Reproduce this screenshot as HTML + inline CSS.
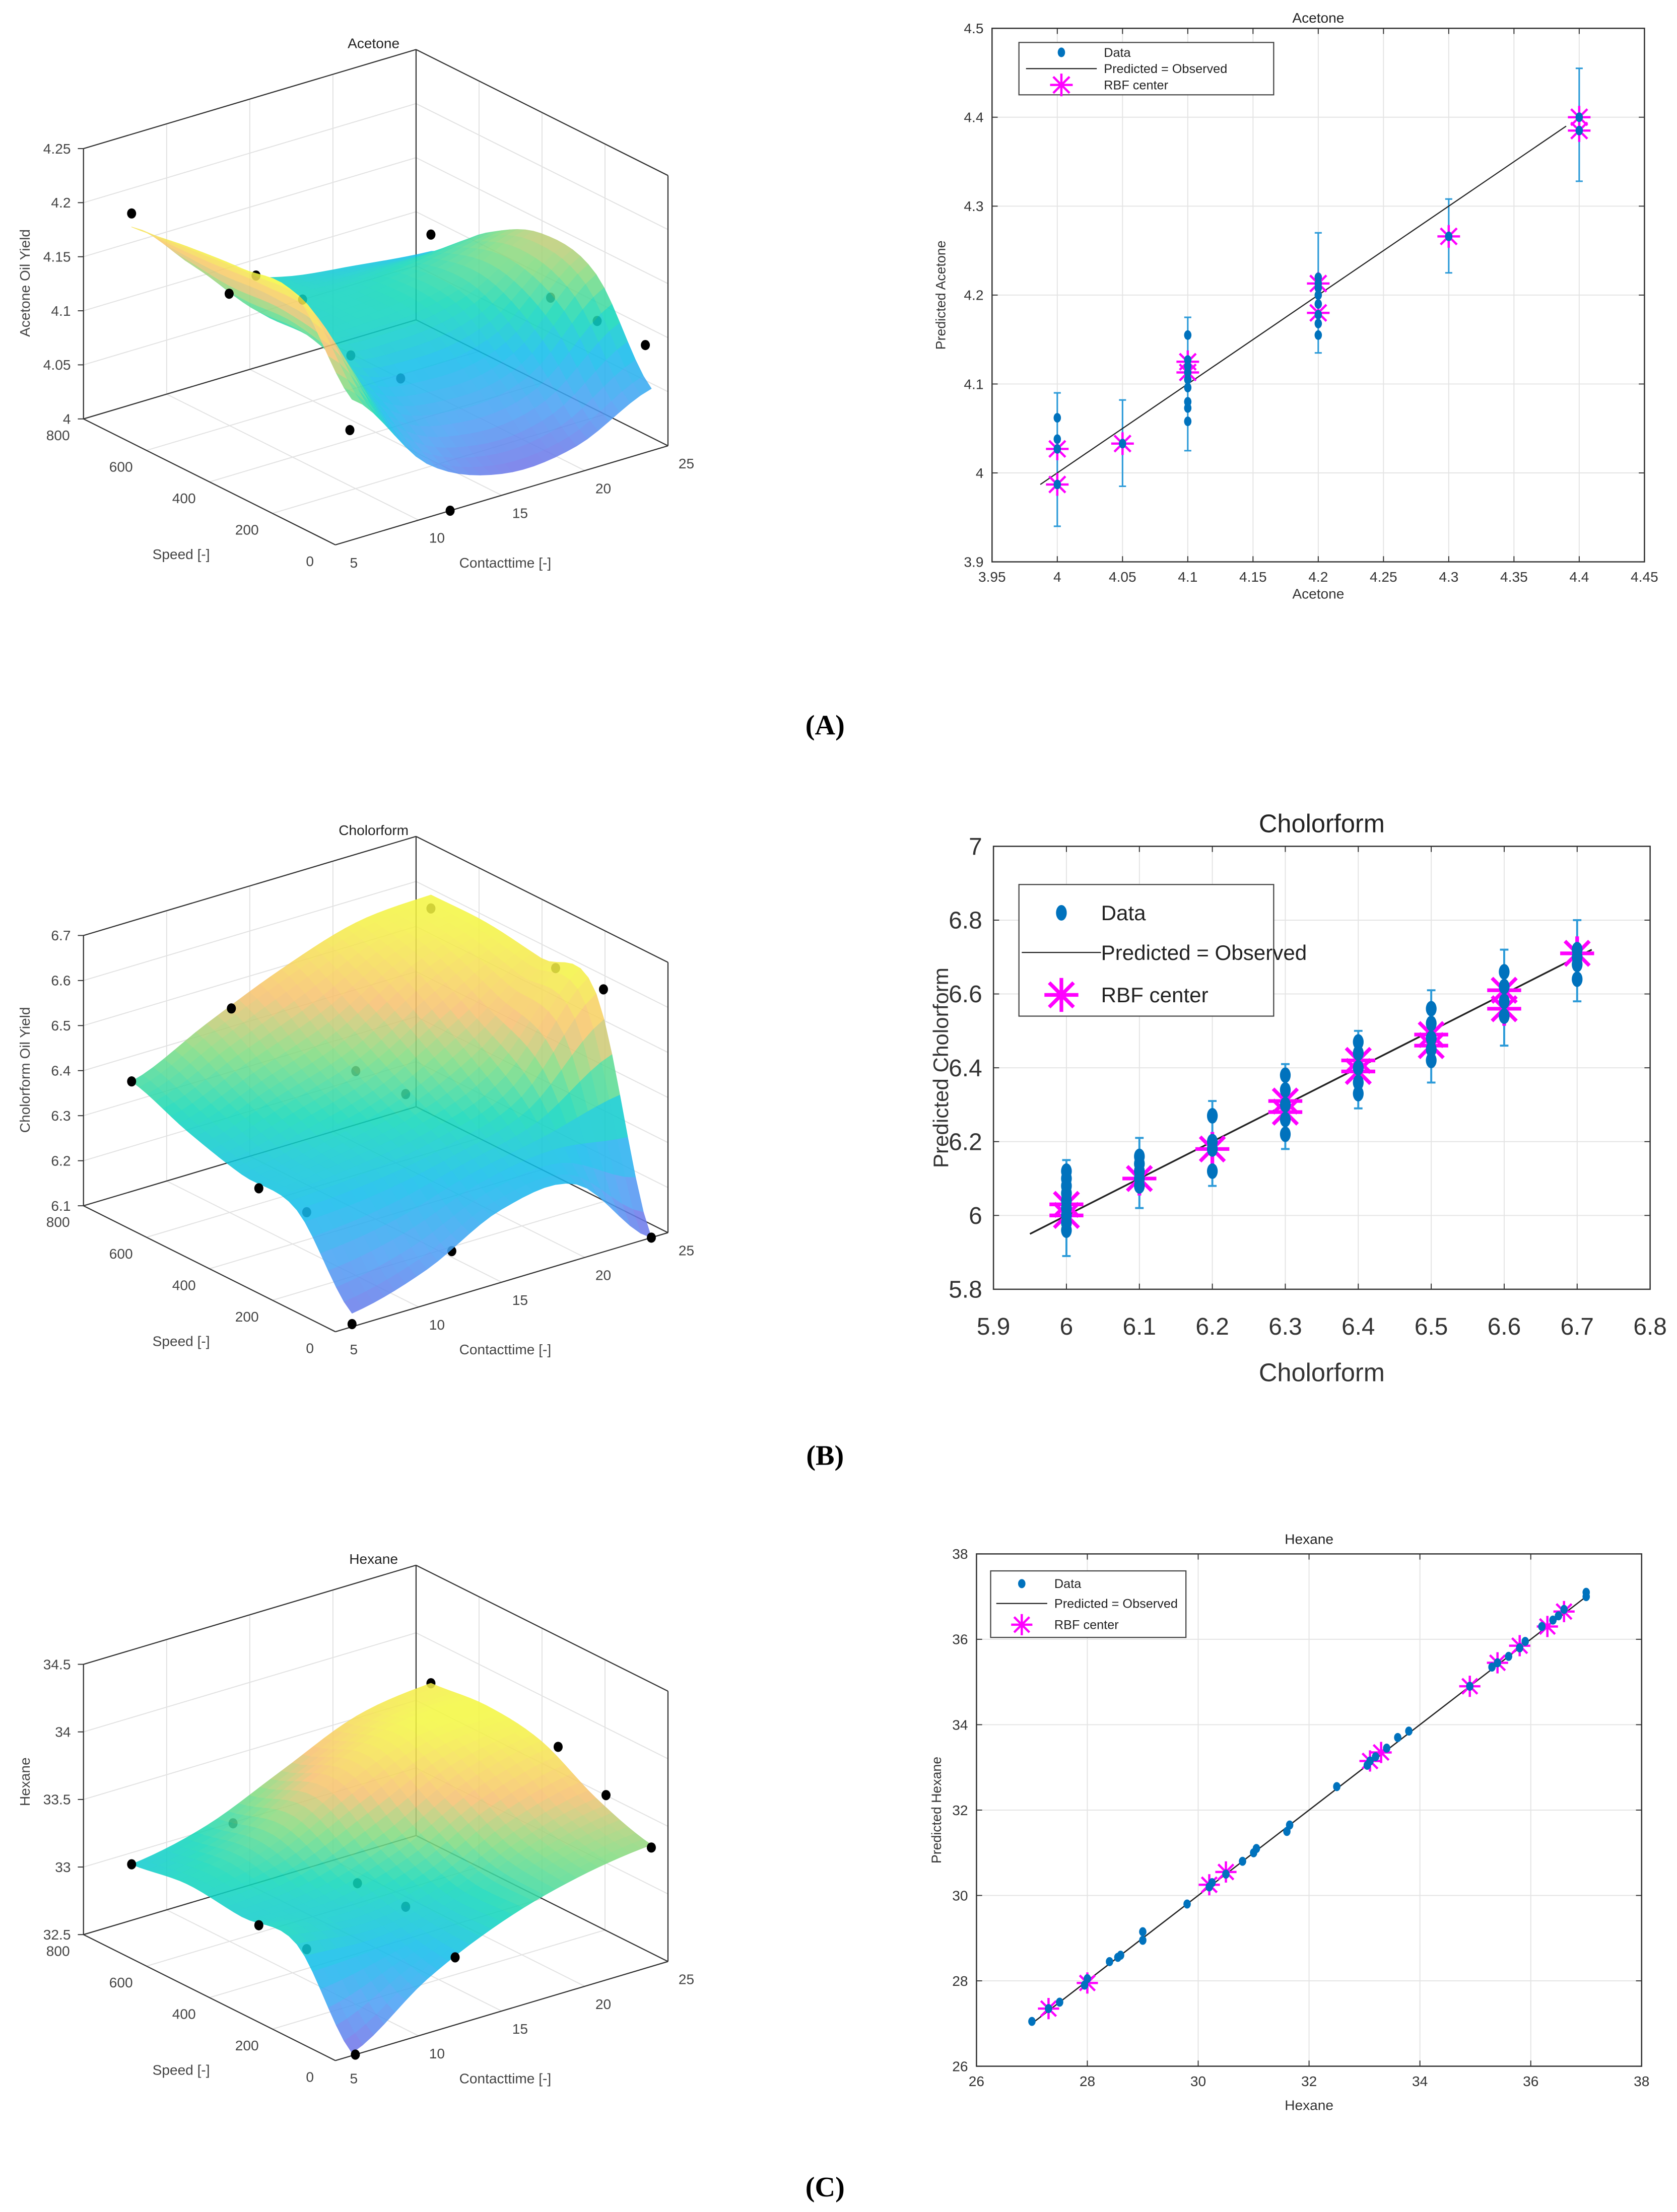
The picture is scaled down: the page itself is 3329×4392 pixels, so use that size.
<!DOCTYPE html>
<html><head><meta charset="utf-8">
<style>
html,body{margin:0;padding:0;background:#fff;}
svg{display:block;}
text{font-family:"Liberation Sans",sans-serif;}
</style></head>
<body>
<svg id="fig" xmlns="http://www.w3.org/2000/svg" width="3329" height="4392" viewBox="0 0 1185 1563" preserveAspectRatio="none">
<rect x="0" y="0" width="1185" height="1563" fill="#fff"/>
<text x="583" y="519" text-anchor="middle" font-size="20" font-weight="bold" style="font-family:'Liberation Serif',serif">(A)</text>
<text x="583" y="1035" text-anchor="middle" font-size="20" font-weight="bold" style="font-family:'Liberation Serif',serif">(B)</text>
<text x="583" y="1552" text-anchor="middle" font-size="20" font-weight="bold" style="font-family:'Liberation Serif',serif">(C)</text>
</svg>
<script>
// ---------- 3D surface data ----------
const surfCt = [6, 10.5, 15, 19.5, 24];
const surfSpeed = [0, 175, 350, 525, 700];
const acetoneGrid = [
 [4.13, 4.05, 4.02, 4.025, 4.0575],
 [4.2, 4.0875, 4.0625, 4.075, 4.1375],
 [4.2, 4.1125, 4.1, 4.1125, 4.15],
 [4.195, 4.1125, 4.105, 4.1125, 4.125],
 [4.1875, 4.125, 4.1, 4.09, 4.0825]];
const chloroGrid = [
 [6.13, 6.178, 6.262, 6.268, 6.1],
 [6.298, 6.31, 6.34, 6.4, 6.58],
 [6.316, 6.352, 6.4, 6.49, 6.598],
 [6.352, 6.412, 6.472, 6.568, 6.616],
 [6.4, 6.478, 6.55, 6.604, 6.616]];
const hexaneGrid = [
 [32.52, 32.9, 33.16, 33.32, 33.4],
 [33.12, 33.06, 33.16, 33.4, 33.54],
 [33.12, 33.16, 33.34, 33.62, 33.76],
 [33.16, 33.3, 33.6, 33.8, 33.82],
 [33.1, 33.22, 33.46, 33.7, 33.78]];
// observation points
const acetonePtCt = [6, 7.7, 7.8, 10.6, 13.5, 16.5, 8.9, 11.9, 24, 24, 24, 24];
const acetonePtSpeed = [700, 480, 400, 400, 400, 400, 160, 0, 700, 320, 172, 19];
const acetonePtYield = [4.2, 4.15, 4.178, 4.143, 4.078, 4.043, 4.065, 4.0, 4.098, 4.095, 4.095, 4.095];
const acetonePtHidden = [0,0,1,1,1,1,0,0,1,1,1,0];
const chloroPtCt = [6, 12, 6, 6, 6, 12, 24, 13.8, 16.8, 24, 24, 24];
const chloroPtSpeed = [700, 700, 296, 144, 0, 0, 0, 400, 400, 700, 304, 152];
const chloroPtYield = [6.4, 6.496, 6.304, 6.304, 6.106, 6.202, 6.1, 6.442, 6.358, 6.586, 6.592, 6.598];
const chloroPtHidden = [0,0,0,1,0,1,0,1,1,1,1,0];
const hexanePtCt = [6, 12.1, 6, 6, 6.2, 12.2, 13.9, 16.8, 24, 24, 24, 24];
const hexanePtSpeed = [700, 700, 296, 144, 0, 0, 400, 400, 700, 296, 144, 0];
const hexanePtYield = [33.1, 33.18, 33.12, 33.12, 32.5, 33.0, 33.02, 32.74, 33.78, 33.78, 33.6, 33.38];
const hexanePtHidden = [0,1,0,1,0,0,1,1,1,1,1,0];
const ctTicks = [5, 10, 15, 20, 25];
const speedTicks = [0, 200, 400, 600, 800];
const acetoneZTicks = [4, 4.05, 4.1, 4.15, 4.2, 4.25];
const chloroZTicks = [6.1, 6.2, 6.3, 6.4, 6.5, 6.6, 6.7];
const hexaneZTicks = [32.5, 33, 33.5, 34, 34.5];

// ---------- 2D parity data ----------
const acetoneObs = [4.0, 4.05, 4.1, 4.2, 4.3, 4.4];
const acetonePred = [[3.987,4.027,4.038,4.062],[4.033],[4.058,4.073,4.08,4.096,4.105,4.113,4.12,4.127,4.155],[4.155,4.168,4.178,4.19,4.2,4.208,4.213,4.22],[4.266],[4.385,4.4]];
const acetoneRbf = [[4.027,3.987],[4.033],[4.125,4.113],[4.213,4.18],[4.266],[4.4,4.385]];
const acetoneErrLo = [3.94, 3.985, 4.025, 4.135, 4.225, 4.328];
const acetoneErrHi = [4.09, 4.082, 4.175, 4.27, 4.308, 4.455];
const acetoneLine = [3.987, 4.39];
const acetoneXTicks = [3.95,4,4.05,4.1,4.15,4.2,4.25,4.3,4.35,4.4,4.45];
const acetoneXLabels = ['3.95','4','4.05','4.1','4.15','4.2','4.25','4.3','4.35','4.4','4.45'];
const acetoneYTicks = [3.9,4,4.1,4.2,4.3,4.4,4.5];
const acetoneYLabels = ['3.9','4','4.1','4.2','4.3','4.4','4.5'];

const chloroObs = [6.0,6.1,6.2,6.3,6.4,6.5,6.6,6.7];
const chloroPred = [[5.96,5.98,6.0,6.02,6.04,6.06,6.08,6.1,6.12],[6.08,6.1,6.12,6.14,6.16],[6.12,6.18,6.2,6.27],[6.22,6.26,6.3,6.34,6.38],[6.33,6.36,6.4,6.44,6.47],[6.42,6.45,6.48,6.52,6.56],[6.54,6.58,6.62,6.66],[6.64,6.68,6.7,6.72]];
const chloroRbf = [[6.0,6.03],[6.1],[6.18],[6.28,6.31],[6.39,6.42],[6.46,6.49],[6.56,6.61],[6.71]];
const chloroErrLo = [5.89,6.02,6.08,6.18,6.29,6.36,6.46,6.58];
const chloroErrHi = [6.15,6.21,6.31,6.41,6.5,6.61,6.72,6.8];
const chloroLine = [5.95, 6.72];
const chloroXTicks = [5.9,6,6.1,6.2,6.3,6.4,6.5,6.6,6.7,6.8];
const chloroXLabels = ['5.9','6','6.1','6.2','6.3','6.4','6.5','6.6','6.7','6.8'];
const chloroYTicks = [5.8,6,6.2,6.4,6.6,6.8,7];
const chloroYLabels = ['5.8','6','6.2','6.4','6.6','6.8','7'];

const hexaneObs = [27.0,27.3,27.5,27.95,28.0,28.4,28.55,28.6,29.0,29.0,29.8,30.2,30.25,30.5,30.8,31.0,31.05,31.6,31.65,32.5,33.05,33.1,33.2,33.4,33.6,33.8,34.9,35.3,35.4,35.6,35.8,35.9,36.2,36.4,36.5,36.6,37.0,37.0];
const hexanePred = [27.05,27.35,27.5,27.9,28.05,28.45,28.55,28.6,28.95,29.15,29.8,30.2,30.3,30.5,30.8,31.0,31.1,31.5,31.65,32.55,33.05,33.15,33.25,33.45,33.7,33.85,34.9,35.35,35.45,35.6,35.8,35.95,36.3,36.45,36.55,36.7,37.0,37.1];
const hexaneRbfObs = [27.3,28.0,30.2,30.5,33.1,33.3,34.9,35.4,35.8,36.3,36.6];
const hexaneRbfPred = [27.35,27.95,30.25,30.55,33.15,33.35,34.9,35.45,35.85,36.3,36.65];
const hexaneLine = [27.0, 37.0];
const hexaneXTicks = [26,28,30,32,34,36,38];
const hexaneXLabels = ['26','28','30','32','34','36','38'];
const hexaneYTicks = [26,28,30,32,34,36,38];
const hexaneYLabels = ['26','28','30','32','34','36','38'];

// ---------- helpers ----------
const NS = 'http://www.w3.org/2000/svg';
const svg = document.getElementById('fig');
function mk(tag, attrs, parent) {
  const e = document.createElementNS(NS, tag);
  for (const k in attrs) e.setAttribute(k, attrs[k]);
  (parent || svg).appendChild(e);
  return e;
}
function txt(str, attrs, parent) { const e = mk('text', attrs, parent); e.textContent = str; return e; }

const cmapStops = [[0,[122,106,230]],[0.2,[74,159,245]],[0.38,[16,188,236]],[0.52,[16,216,184]],[0.66,[128,220,128]],[0.8,[248,192,112]],[1,[244,248,64]]];
function cmap(t) {
  t = Math.max(0, Math.min(1, t));
  for (let i = 1; i < cmapStops.length; i++) {
    if (t <= cmapStops[i][0]) {
      const a = cmapStops[i-1], b = cmapStops[i];
      const u = (t - a[0]) / (b[0] - a[0]);
      const c = a[1].map((v, k) => Math.round(v + (b[1][k] - v) * u));
      return 'rgb(' + c.join(',') + ')';
    }
  }
  return 'rgb(244,248,64)';
}
function cr(p0, p1, p2, p3, t) {
  const t2 = t*t, t3 = t2*t;
  return 0.5*((2*p1) + (-p0+p2)*t + (2*p0-5*p1+4*p2-p3)*t2 + (-p0+3*p1-3*p2+p3)*t3);
}
function gridAt(g, si, ci) {
  si = Math.max(0, Math.min(4, si)); ci = Math.max(0, Math.min(4, ci));
  return g[si][ci];
}
function sampleGrid(g, u, v) {
  const ci = Math.min(3, Math.floor(u)), si = Math.min(3, Math.floor(v));
  const tu = u - ci, tv = v - si;
  const rows = [];
  for (let k = -1; k <= 2; k++) {
    const r = si + k;
    rows.push(cr(gridAt(g,r,ci-1), gridAt(g,r,ci), gridAt(g,r,ci+1), gridAt(g,r,ci+2), tu));
  }
  return cr(rows[0], rows[1], rows[2], rows[3], tv);
}

// ---------- 3D plot ----------
function draw3D(cfg) {
  const g = mk('g', {});
  
  
  const P = (ct, sp, z) => {
    const c = (ct - 5) / 20, s = sp / 800, f = (z - cfg.zmin) / (cfg.zmax - cfg.zmin);
    return [237 + 235*c - 178*s, 385 + cfg.dy - 70*c - 89*s - 191*f];
  };
  const zmin = cfg.zmin, zmax = cfg.zmax;
  const gridStyle = {stroke:'#e2e2e2','stroke-width':0.7,fill:'none'};
  cfg.zticks.forEach(z => {
    const a = P(5,800,z), b = P(25,800,z), c = P(25,0,z);
    const el = mk('polyline', Object.assign({points: a.join(',')+' '+b.join(',')+' '+c.join(',')}, gridStyle), g);
    
    
  });
  ctTicks.forEach(t => {
    const a = P(t,0,zmin), b = P(t,800,zmin), c = P(t,800,zmax);
    const el = mk('polyline', Object.assign({points: a.join(',')+' '+b.join(',')+' '+c.join(',')}, gridStyle), g);
    
    
  });
  speedTicks.forEach(t => {
    const a = P(5,t,zmin), b = P(25,t,zmin), c = P(25,t,zmax);
    const el = mk('polyline', Object.assign({points: a.join(',')+' '+b.join(',')+' '+c.join(',')}, gridStyle), g);
    
    
  });
  const boxSegs = [
    [[5,800,zmin],[5,800,zmax]],[[25,800,zmin],[25,800,zmax]],[[25,0,zmin],[25,0,zmax]],
    [[5,800,zmax],[25,800,zmax]],[[25,800,zmax],[25,0,zmax]],
    [[5,800,zmin],[25,800,zmin]],[[25,800,zmin],[25,0,zmin]],
    [[5,800,zmin],[5,0,zmin]],[[5,0,zmin],[25,0,zmin]]];
  boxSegs.forEach(sg => {
    const a = P(...sg[0]), b = P(...sg[1]);
    const el = mk('line', {x1:a[0],y1:a[1],x2:b[0],y2:b[1],stroke:'#333','stroke-width':0.8}, g);
    
    
  });
  const drawPt = (i, hidden) => {
    const p = P(cfg.ptCt[i], cfg.ptSp[i], cfg.ptZ[i]);
    const el = mk('ellipse', {cx:p[0], cy:p[1], rx:3.2, ry:3.6, fill:'#000'}, g);
    
    
  };
  cfg.ptZ.forEach((z, i) => { if (cfg.ptHidden[i]) drawPt(i, true); });
  const sg = mk('g', {opacity:0.86}, g);
  
  
  const N = 28, quads = [];
  const cts = surfCt, sps = surfSpeed;
  const vert = (iu, iv) => {
    const u = iu / N * 4, v = iv / N * 4;
    const ct = cts[0] + (cts[4] - cts[0]) * iu / N;
    const sp = sps[0] + (sps[4] - sps[0]) * iv / N;
    const z = sampleGrid(cfg.grid, u, v);
    return {p: P(ct, sp, z), z: z, ct: ct, sp: sp};
  };
  const V = [];
  for (let iv = 0; iv <= N; iv++) { V.push([]); for (let iu = 0; iu <= N; iu++) V[iv].push(vert(iu, iv)); }
  for (let iv = 0; iv < N; iv++) for (let iu = 0; iu < N; iu++) {
    const a = V[iv][iu], b = V[iv][iu+1], c = V[iv+1][iu+1], d = V[iv+1][iu];
    const zAvg = (a.z + b.z + c.z + d.z) / 4;
    const depth = 70 * ((a.ct + c.ct) / 2 - 5) / 20 + 89 * ((a.sp + c.sp) / 2) / 800;
    quads.push({pts:[a.p,b.p,c.p,d.p], z:zAvg, depth:depth});
  }
  quads.sort((q1, q2) => q2.depth - q1.depth);
  quads.forEach(q => {
    const col = cmap((q.z - cfg.cmin) / (cfg.cmax - cfg.cmin));
    const el = mk('polygon', {points: q.pts.map(p => p[0].toFixed(2)+','+p[1].toFixed(2)).join(' '), fill: col, stroke: col, 'stroke-width': 0.35, 'stroke-linejoin':'round'}, sg);
    
    
  });
  cfg.ptZ.forEach((z, i) => { if (!cfg.ptHidden[i]) drawPt(i, false); });
  cfg.zticks.forEach((z, i) => {
    const p = P(5,800,z);
    const el = txt(cfg.zlabels[i], {x:p[0]-9, y:p[1]+3.5, 'text-anchor':'end', 'font-size':10, fill:'#444'}, g);
    
    
    const tk = mk('line', {x1:p[0]-4, y1:p[1], x2:p[0], y2:p[1], stroke:'#333','stroke-width':0.7}, g);
    
    
  });
  speedTicks.forEach(t => {
    const p = P(5,t,zmin);
    const el = txt(String(t), {x:p[0]-18, y:p[1]+15, 'text-anchor':'middle', 'font-size':10, fill:'#444'}, g);
    
    
  });
  ctTicks.forEach(t => {
    const p = P(t,0,zmin);
    const el = txt(String(t), {x:p[0]+13, y:p[1]+16, 'text-anchor':'middle', 'font-size':10, fill:'#444'}, g);
    
    
  });
  const t1 = txt('Speed [-]', {x:128, y:395 + cfg.dy, 'text-anchor':'middle', 'font-size':10, fill:'#444'}, g);
  
  
  const t2 = txt('Contacttime [-]', {x:357, y:401 + cfg.dy, 'text-anchor':'middle', 'font-size':10, fill:'#444'}, g);
  
  
  const t3 = txt(cfg.zTitle, {x:0, y:0, 'text-anchor':'middle', 'font-size':10, fill:'#444', transform:'translate(21,' + (cfg.zTitleY + cfg.dy) + ') rotate(-90)'}, g);
  
  
  const t4 = txt(cfg.title, {x:264, y:34 + cfg.dy, 'text-anchor':'middle', 'font-size':10, fill:'#222'}, g);
  
  
}

draw3D({name:'acetone-surface-plot', dy:0, zmin:4, zmax:4.25, zticks:acetoneZTicks, zlabels:['4','4.05','4.1','4.15','4.2','4.25'],
  grid:acetoneGrid, cmin:4.01, cmax:4.2, ptCt:acetonePtCt, ptSp:acetonePtSpeed, ptZ:acetonePtYield, ptHidden:acetonePtHidden,
  title:'Acetone', zTitle:'Acetone Oil Yield', zTitleY:200});
draw3D({name:'chloroform-surface-plot', dy:556, zmin:6.1, zmax:6.7, zticks:chloroZTicks, zlabels:['6.1','6.2','6.3','6.4','6.5','6.6','6.7'],
  grid:chloroGrid, cmin:6.1, cmax:6.62, ptCt:chloroPtCt, ptSp:chloroPtSpeed, ptZ:chloroPtYield, ptHidden:chloroPtHidden,
  title:'Cholorform', zTitle:'Cholorform Oil Yield', zTitleY:200});
draw3D({name:'hexane-surface-plot', dy:1071, zmin:32.5, zmax:34.5, zticks:hexaneZTicks, zlabels:['32.5','33','33.5','34','34.5'],
  grid:hexaneGrid, cmin:32.5, cmax:33.82, ptCt:hexanePtCt, ptSp:hexanePtSpeed, ptZ:hexanePtYield, ptHidden:hexanePtHidden,
  title:'Hexane', zTitle:'Hexane', zTitleY:188});

// ---------- 2D parity plot ----------
function asterisk(g, x, y, r, sw) {
  const d = 'M'+(x-r)+','+y+'H'+(x+r)+'M'+x+','+(y-r)+'V'+(y+r)+
    'M'+(x-r*0.72)+','+(y-r*0.72)+'L'+(x+r*0.72)+','+(y+r*0.72)+
    'M'+(x-r*0.72)+','+(y+r*0.72)+'L'+(x+r*0.72)+','+(y-r*0.72);
  return mk('path', {d:d, stroke:'#ff00ff', 'stroke-width':sw, fill:'none'}, g);
}
function draw2D(cfg) {
  const g = mk('g', {});
  
  
  const X = v => cfg.x0 + (v - cfg.xmin) / (cfg.xmax - cfg.xmin) * (cfg.x1 - cfg.x0);
  const Y = v => cfg.y1 - (v - cfg.ymin) / (cfg.ymax - cfg.ymin) * (cfg.y1 - cfg.y0);
  const bg = mk('rect', {x:cfg.x0, y:cfg.y0, width:cfg.x1-cfg.x0, height:cfg.y1-cfg.y0, fill:'#fff'}, g);
  
  
  cfg.xt.forEach((t, i) => {
    const x = X(t);
    const gl = mk('line', {x1:x, y1:cfg.y0, x2:x, y2:cfg.y1, stroke:'#e4e4e4', 'stroke-width':0.7}, g);
    
    
    const tk1 = mk('line', {x1:x, y1:cfg.y1, x2:x, y2:cfg.y1-4, stroke:'#333', 'stroke-width':0.7}, g);
    
    
    const tk2 = mk('line', {x1:x, y1:cfg.y0, x2:x, y2:cfg.y0+4, stroke:'#333', 'stroke-width':0.7}, g);
    
    
    const lb = txt(cfg.xl[i], {x:x, y:cfg.y1 + cfg.xlOff, 'text-anchor':'middle', 'font-size':cfg.fs, fill:'#333'}, g);
    
    
  });
  cfg.yt.forEach((t, i) => {
    const y = Y(t);
    const gl = mk('line', {x1:cfg.x0, y1:y, x2:cfg.x1, y2:y, stroke:'#e4e4e4', 'stroke-width':0.7}, g);
    
    
    const tk1 = mk('line', {x1:cfg.x0, y1:y, x2:cfg.x0+4, y2:y, stroke:'#333', 'stroke-width':0.7}, g);
    
    
    const tk2 = mk('line', {x1:cfg.x1, y1:y, x2:cfg.x1-4, y2:y, stroke:'#333', 'stroke-width':0.7}, g);
    
    
    const lb = txt(cfg.yl[i], {x:cfg.x0 - cfg.ylOff, y:y + cfg.fs*0.35, 'text-anchor':'end', 'font-size':cfg.fs, fill:'#333'}, g);
    
    
  });
  const frame = mk('rect', {x:cfg.x0, y:cfg.y0, width:cfg.x1-cfg.x0, height:cfg.y1-cfg.y0, fill:'none', stroke:'#333', 'stroke-width':0.9}, g);
  
  
  if (cfg.errLo) cfg.obs.forEach((o, i) => {
    const x = X(o);
    const eb = mk('path', {d:'M'+x+','+Y(cfg.errLo[i])+'V'+Y(cfg.errHi[i])+'M'+(x-cfg.cap)+','+Y(cfg.errLo[i])+'H'+(x+cfg.cap)+'M'+(x-cfg.cap)+','+Y(cfg.errHi[i])+'H'+(x+cfg.cap),
      stroke:'#2c9ad8', 'stroke-width':cfg.ebw, fill:'none'}, g);
    
    
  });
  const ln = mk('line', {x1:X(cfg.line[0]), y1:Y(cfg.line[0]), x2:X(cfg.line[1]), y2:Y(cfg.line[1]), stroke:'#222', 'stroke-width':cfg.lw}, g);
  
  
  cfg.rbfPairs.forEach(pr => {
    const a = asterisk(g, X(pr[0]), Y(pr[1]), cfg.ar, cfg.aw);
    
    
  });
  cfg.dataPairs.forEach(pr => {
    const d = mk('ellipse', {cx:X(pr[0]), cy:Y(pr[1]), rx:cfg.mrx, ry:cfg.mry, fill:'#0072bd'}, g);
    
    
  });
  const tt = txt(cfg.title, {x:(cfg.x0+cfg.x1)/2, y:cfg.titleY, 'text-anchor':'middle', 'font-size':cfg.tfs, fill:'#222'}, g);
  
  
  const xt = txt(cfg.xTitle, {x:(cfg.x0+cfg.x1)/2, y:cfg.xTitleY, 'text-anchor':'middle', 'font-size':cfg.tfs, fill:'#333'}, g);
  
  
  const yt = txt(cfg.yTitle, {x:0, y:0, 'text-anchor':'middle', 'font-size':cfg.yfs, fill:'#333', transform:'translate('+cfg.yTitleX+','+((cfg.y0+cfg.y1)/2)+') rotate(-90)'}, g);
  
  
  const L = cfg.leg;
  const lg = mk('g', {}, g);
  
  
  const lb = mk('rect', {x:L.x, y:L.y, width:L.w, height:L.h, fill:'#fff', stroke:'#444', 'stroke-width':0.8}, lg);
  
  
  const names = ['Data', 'Predicted = Observed', 'RBF center'];
  names.forEach((n, i) => {
    const y = L.y + L.rows[i];
    if (i === 0) {
      const m = mk('ellipse', {cx:L.mx, cy:y, rx:cfg.mrx, ry:cfg.mry, fill:'#0072bd'}, lg);
      
      
    } else if (i === 1) {
      const m = mk('line', {x1:L.mx-L.lineHalf, y1:y, x2:L.mx+L.lineHalf, y2:y, stroke:'#222', 'stroke-width':0.8}, lg);
      
      
    } else {
      const m = asterisk(lg, L.mx, y, cfg.ar, cfg.aw);
      
      
    }
    const t = txt(n, {x:L.tx, y:y + L.fs*0.35, 'font-size':L.fs, fill:'#222'}, lg);
    
    
  });
}

function pairsFrom(obs, vals) { const out = []; obs.forEach((o, i) => vals[i].forEach(v => out.push([o, v]))); return out; }

draw2D({name:'acetone-parity-chart', x0:701, x1:1162, y0:20, y1:397, xmin:3.95, xmax:4.45, ymin:3.9, ymax:4.5,
  xt:acetoneXTicks, xl:acetoneXLabels, yt:acetoneYTicks, yl:acetoneYLabels, fs:10, xlOff:14, ylOff:6,
  obs:acetoneObs, errLo:acetoneErrLo, errHi:acetoneErrHi, cap:2.5, ebw:1.1, line:acetoneLine, lw:0.8,
  rbfPairs:pairsFrom(acetoneObs, acetoneRbf), dataPairs:pairsFrom(acetoneObs, acetonePred), mrx:2.6, mry:3.4, ar:8, aw:1.6,
  title:'Acetone', titleY:16, xTitle:'Acetone', xTitleY:423, tfs:10, yTitle:'Predicted Acetone', yTitleX:668, yfs:9.5,
  leg:{x:720, y:30, w:180, h:37, rows:[7,18.5,30], mx:750, tx:780, fs:9, lineHalf:25}});

draw2D({name:'chloroform-parity-chart', x0:702, x1:1166, y0:598, y1:911, xmin:5.9, xmax:6.8, ymin:5.8, ymax:7,
  xt:chloroXTicks, xl:chloroXLabels, yt:chloroYTicks, yl:chloroYLabels, fs:17, xlOff:32, ylOff:8,
  obs:chloroObs, errLo:chloroErrLo, errHi:chloroErrHi, cap:3, ebw:1.4, line:chloroLine, lw:1.2,
  rbfPairs:pairsFrom(chloroObs, chloroRbf), dataPairs:pairsFrom(chloroObs, chloroPred), mrx:3.8, mry:5.5, ar:12, aw:2.6,
  title:'Cholorform', titleY:588, xTitle:'Cholorform', xTitleY:976, tfs:18, yTitle:'Predicted Cholorform', yTitleX:670, yfs:15,
  leg:{x:720, y:625, w:180, h:93, rows:[20,48,78], mx:750, tx:778, fs:15, lineHalf:28}});

const hexPairs = hexaneObs.map((o, i) => [o, hexanePred[i]]);
const hexRbf = hexaneRbfObs.map((o, i) => [o, hexaneRbfPred[i]]);
draw2D({name:'hexane-parity-chart', x0:690, x1:1160, y0:1098, y1:1460, xmin:26, xmax:38, ymin:26, ymax:38,
  xt:hexaneXTicks, xl:hexaneXLabels, yt:hexaneYTicks, yl:hexaneYLabels, fs:10, xlOff:14, ylOff:6,
  obs:null, errLo:null, errHi:null, cap:2, ebw:1, line:hexaneLine, lw:0.9,
  rbfPairs:hexRbf, dataPairs:hexPairs, mrx:2.6, mry:3.2, ar:7.5, aw:1.6,
  title:'Hexane', titleY:1091, xTitle:'Hexane', xTitleY:1491, tfs:10, yTitle:'Predicted Hexane', yTitleX:665, yfs:9.5,
  leg:{x:700, y:1110, w:138, h:47, rows:[9,23,38], mx:722, tx:745, fs:9, lineHalf:18}});
</script>
</body></html>
